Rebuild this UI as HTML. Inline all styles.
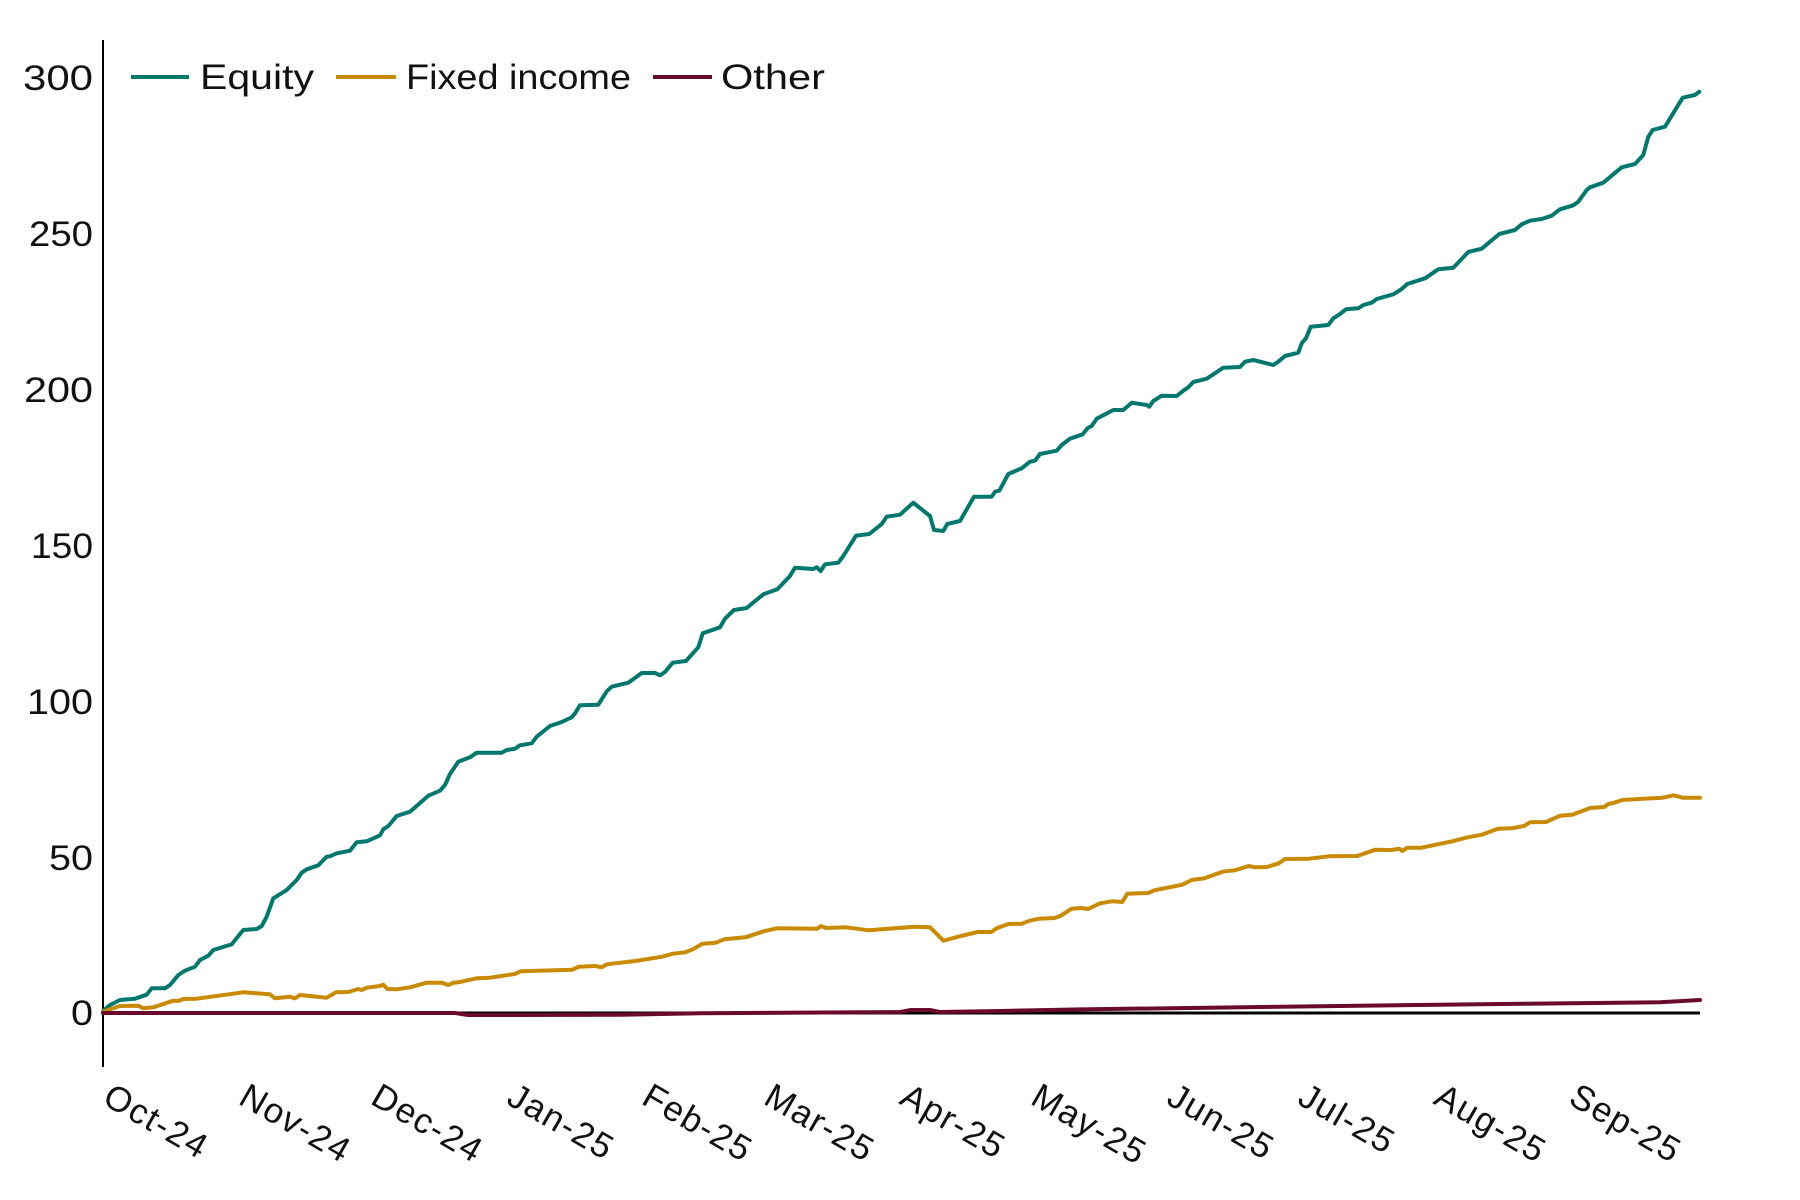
<!DOCTYPE html>
<html>
<head>
<meta charset="utf-8">
<style>
  html,body{margin:0;padding:0;background:#fff;}
  svg{display:block;}
  text{font-family:"Liberation Sans", "DejaVu Sans", sans-serif; fill:#111;}
</style>
</head>
<body>
<svg width="1800" height="1200" viewBox="0 0 1800 1200" xmlns="http://www.w3.org/2000/svg">
  <rect width="1800" height="1200" fill="#fff"/>

  <!-- Y axis -->
  <line x1="103" y1="40" x2="103" y2="1067" stroke="#000" stroke-width="2"/>

  <!-- Y tick labels -->
  <g font-size="35" text-anchor="end">
    <text x="93" y="90" textLength="70" lengthAdjust="spacingAndGlyphs">300</text>
    <text x="93" y="246" textLength="64" lengthAdjust="spacingAndGlyphs">250</text>
    <text x="93" y="402" textLength="69" lengthAdjust="spacingAndGlyphs">200</text>
    <text x="93" y="558" textLength="62" lengthAdjust="spacingAndGlyphs">150</text>
    <text x="93" y="714" textLength="66" lengthAdjust="spacingAndGlyphs">100</text>
    <text x="93" y="870" textLength="44" lengthAdjust="spacingAndGlyphs">50</text>
    <text x="93" y="1025" textLength="22" lengthAdjust="spacingAndGlyphs">0</text>
  </g>

  <!-- Zero line -->
  <line x1="103" y1="1013" x2="1700" y2="1013" stroke="#000" stroke-width="3"/>

  <!-- Equity -->
  <polyline fill="none" stroke="#00786e" stroke-width="4" stroke-linejoin="round" stroke-linecap="round"
    points="103,1013 103.3,1010.7 110,1005 120,1000 135,998.7 146.7,994.7 151.7,988.3 165,988.3 170,985 178.3,975 185,970.7 195,966.7 200,960 208.3,955.7 213.3,950 231.7,944.3 243.3,930 256.7,929 261.7,926 266.7,916.7 273.3,898.3 286.7,890 296.7,880 301.7,872.7 306.7,869.3 318.3,865.3 326.7,856.7 330,856.3 336.7,853.3 350,850.7 356.7,842.3 366.7,841.3 380,835.3 383.3,829.3 388.3,826 396.7,816 410,811.7 428.3,795.7 440,790.7 445,785 450,774 458.3,761.7 470,757.3 476.7,752.7 501.7,752.7 506.7,750 515,748.7 520,745.3 531.7,743.3 536.7,736.7 550,726 561.7,722 571.7,717.3 575,713.3 580,705.3 598.3,704.7 606.7,691.3 611.7,686.7 628.3,682.7 641.7,673 655,673 660,675.3 665,672 672.7,662.7 686,661 698.3,647.3 702.7,633.3 720,627.3 725,618.7 734,610 746.7,608 763.3,594.3 777.3,589.3 790,576 795,567.7 813.3,569 816.7,567.3 820.7,571 825,564.3 838.3,562.7 843.3,556 856,535.7 869.3,534 881.7,524 886.7,516.7 900,514.7 913.3,502.7 930,516 934,530 943.3,531 947.3,524 960,521 974,496.7 991.7,496.7 995,491.7 999.3,490.7 1008.3,474 1021.7,468.3 1030,461.7 1035,460.7 1040,454 1056.7,450.7 1061.7,445 1070,438.7 1082.7,434.3 1087.7,428 1091.7,426 1096.7,418.7 1113.3,410 1123.3,410 1131.7,402.7 1146.7,405 1149.3,406.7 1153.3,401 1161.7,395.7 1176.7,396 1183.3,390.7 1188.3,387.3 1193.3,382 1206.7,378.7 1223.3,367.7 1240,367 1245,361.7 1253.3,360 1273.3,365 1278.3,361.7 1285,356 1298.3,352.7 1301.7,343.3 1306,338.3 1310.7,326.7 1328.3,325 1333.3,318.3 1340,314 1346,309.3 1358.3,308.3 1363.3,305 1371.7,302.7 1376.7,299 1393.3,294.3 1401.7,289 1407.3,284 1425,278.3 1438.3,269.3 1453.3,267.7 1468.3,252 1481.7,248.7 1499.3,234 1515,230 1521.7,224.3 1530,220.7 1541.7,219 1551.7,215.7 1560,209.3 1573.3,205.3 1578.3,201.7 1586.7,190 1590,187.3 1603.3,182.7 1621.7,167.3 1635,164 1643.3,155 1648.3,136.7 1652.7,130 1665,126.7 1682.7,97.7 1695,95 1699.3,91.7"/>

  <!-- Fixed income -->
  <polyline fill="none" stroke="#c98a00" stroke-width="4" stroke-linejoin="round" stroke-linecap="round"
    points="103,1013 103.3,1011.7 110,1009.3 120,1006 138.3,1005.7 143.3,1008.3 153.3,1007.3 173.3,1000.7 178.3,1001 183.3,999 196.7,998.7 243.3,992.3 270,994.3 275,998.3 290,996.7 295,998.3 300,995 326.7,997.7 336,992.3 348.3,992 358.3,989 361.7,990 366.7,987.7 380,986 383.3,984.7 387.3,989 396.7,989.3 410,987.3 426.7,982.7 441.7,982.7 448.3,985 453.3,982.7 458.3,982.3 476.7,978.3 483.3,978 490,977.7 514.9,974 520.6,971.3 572.3,969.7 578.8,966.7 595.2,966 601.7,967.3 606.7,964.3 635.4,961 662.2,956.7 672.9,953.7 685.2,952.3 692.8,949.3 702.4,943.7 715.8,942.7 724.2,939.3 745.6,937.3 763.6,931.3 777,928.3 817.2,928.7 821,926 826,928 845.9,927.3 868.9,930.3 914.8,926.7 930.1,927.3 943.5,940.7 960.7,936 977.9,932 991.3,932 997.1,928 1008.6,924 1022,923.7 1029.6,920.7 1039.2,918.7 1054.5,918 1060.2,916 1071.7,908.7 1081.3,908 1088,909 1100.1,903.3 1112.1,901.3 1122.2,902 1127.4,893.7 1148.3,893 1154.3,890.3 1182.4,884.7 1191.7,880 1204.5,878.3 1222.6,871.7 1234.7,870.3 1248.7,866 1254.8,867.3 1266.8,867 1278.9,863.3 1284.9,859 1309,858.7 1329.1,856.3 1357.2,856 1375.3,849.7 1391.4,850 1399.4,848.7 1402.2,851 1407.4,847.7 1421.5,847.7 1453.6,841 1467.7,837.3 1481.8,834.7 1497.8,828.7 1511.9,828.3 1523.9,826 1530,822.3 1546,822 1560.1,815.7 1572.2,814.7 1590.2,808 1604.3,807 1608.3,804 1614.3,802.7 1622.4,800 1662.6,797.7 1673.8,795.3 1682.7,797.7 1699.9,797.7"/>

  <!-- Other -->
  <polyline fill="none" stroke="#6a0a2c" stroke-width="4" stroke-linejoin="round" stroke-linecap="round"
    points="103,1013 455,1013 468,1015 620,1014.8 700,1013.3 900,1012 911,1010 930,1010 940,1012 970,1011.5 1000,1011 1080,1009.4 1300,1006.5 1500,1004 1660,1002.3 1700,1000"/>

  <!-- Legend -->
  <line x1="131" y1="77" x2="189" y2="77" stroke="#00786e" stroke-width="4"/>
  <text x="200" y="89" font-size="35" textLength="114" lengthAdjust="spacingAndGlyphs">Equity</text>
  <line x1="336" y1="77" x2="396" y2="77" stroke="#c98a00" stroke-width="4"/>
  <text x="406" y="89" font-size="35" textLength="225" lengthAdjust="spacingAndGlyphs">Fixed income</text>
  <line x1="653" y1="77" x2="712" y2="77" stroke="#6a0a2c" stroke-width="4"/>
  <text x="721" y="89" font-size="35" textLength="104" lengthAdjust="spacingAndGlyphs">Other</text>

  <!-- X labels -->
  <g font-size="35" letter-spacing="1.5">
    <text transform="translate(101,1103) rotate(30)">Oct-24</text>
    <text transform="translate(237,1103) rotate(30)">Nov-24</text>
    <text transform="translate(369,1103) rotate(30)">Dec-24</text>
    <text transform="translate(505,1103) rotate(30)">Jan-25</text>
    <text transform="translate(640,1103) rotate(30)">Feb-25</text>
    <text transform="translate(762,1103) rotate(30)">Mar-25</text>
    <text transform="translate(898,1103) rotate(30)">Apr-25</text>
    <text transform="translate(1029,1103) rotate(30)">May-25</text>
    <text transform="translate(1165,1103) rotate(30)">Jun-25</text>
    <text transform="translate(1296,1103) rotate(30)">Jul-25</text>
    <text transform="translate(1432,1103) rotate(30)">Aug-25</text>
    <text transform="translate(1567,1103) rotate(30)">Sep-25</text>
  </g>
</svg>
</body>
</html>
